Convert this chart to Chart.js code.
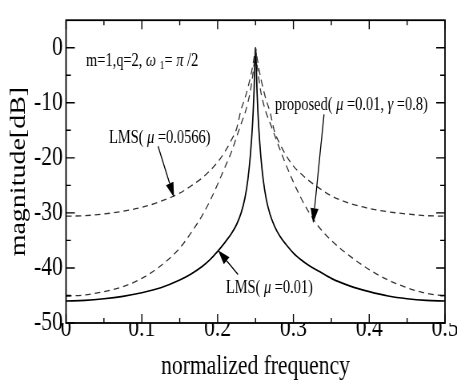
<!DOCTYPE html>
<html>
<head>
<meta charset="utf-8">
<script src="https://cdn.jsdelivr.net/npm/chart.js@4.4.1/dist/chart.umd.min.js"></script>
<style>
  html, body { margin: 0; padding: 0; background: #fff; }
  canvas { display: block; }
</style>
</head>
<body>
<!-- drawn 571 wide and shown 457 wide: the reference figure is squeezed sideways -->
<canvas id="chart" width="571" height="380" style="width:457px;height:380px"></canvas>
<script>
// normalized frequency sample points (denser near the peak at 0.25)
const freq = [0, 0.025, 0.05, 0.075, 0.1, 0.125, 0.15, 0.165, 0.18, 0.19, 0.2, 0.21, 0.218, 0.225, 0.231, 0.236,
              0.24, 0.243, 0.246, 0.248, 0.25,
              0.252, 0.254, 0.257, 0.26, 0.264, 0.269, 0.275, 0.282, 0.29, 0.3, 0.31, 0.32, 0.335, 0.35, 0.375,
              0.4, 0.425, 0.45, 0.475, 0.5];

// magnitude [dB]
const lmsSmall = [-46, -45.9, -45.6, -45.15, -44.5, -43.6, -42.2, -41.1, -39.7, -38.5, -37, -35.3, -33.8, -32.1, -30, -27.3,
                  -23.8, -19.8, -14, -8, 0,
                  -8, -14, -19.8, -23.8, -27.4, -30.2, -32.4, -34.2, -35.7, -37.3, -38.5, -39.5, -40.7, -41.9, -43.3,
                  -44.3, -45.1, -45.6, -45.9, -46];
const lmsLarge = [-30.6, -30.5, -30.2, -29.7, -29, -27.9, -26.4, -25.1, -23.6, -22.3, -20.8, -18.8, -16.8, -14.7, -11.2, -9.2,
                  -7.2, -5.5, -3.5, -1.8, 0,
                  -1.8, -3.5, -5.6, -7.4, -9.5, -11.6, -15.2, -17.4, -19.5, -21.5, -22.9, -24.1, -25.6, -26.9, -28.3,
                  -29.2, -29.8, -30.2, -30.5, -30.6];
const proposed = [-45.1, -44.9, -44.3, -43.4, -41.9, -39.6, -36.4, -33.6, -30.4, -27.8, -24.8, -21.6, -19, -16.2, -13.8, -11.9,
                  -9.9, -8, -5.3, -3, 0,
                  -3, -5.3, -8, -9.9, -11.8, -13.6, -15.8, -18.4, -21.2, -24.4, -27.3, -29.8, -32.8, -35, -37.9,
                  -40.3, -42.2, -43.6, -44.6, -45.1];

const xMajor = [0, 0.1, 0.2, 0.3, 0.4, 0.5];
const xMinor = [0.05, 0.15, 0.25, 0.35, 0.45];
const yMajor = [-50, -40, -30, -20, -10, 0];
const yMinor = [-45, -35, -25, -15, -5];

const serif = "'Liberation Serif', 'Times New Roman', serif";

// text notes and arrows, placed in data units
const notes = [
  { x: 0.0264, y: -2.5, parts: [['m=1,q=2, '], ['ω', 'i'], [' '], ['1', 's'], ['= '], ['π', 'i'], [' /2']] },
  { x: 0.0567, y: -16.5, parts: [['LMS( '], ['μ', 'i'], [' =0.0566)']] },
  { x: 0.2757, y: -10.4, parts: [['proposed( '], ['μ', 'i'], [' =0.01, '], ['γ', 'i'], [' =0.8)']] },
  { x: 0.211, y: -43.7, parts: [['LMS( '], ['μ', 'i'], [' =0.01)']] }
];
const arrows = [
  { from: [0.1214, -17.9], to: [0.1425, -27.2] },
  { from: [0.3404, -12.1], to: [0.3259, -31.9] },
  { from: [0.2269, -41.2], to: [0.2005, -36.8] }
];

const toPoints = ys => freq.map((f, i) => ({ x: f, y: ys[i] }));

const framePlugin = {
  id: 'frame',
  afterDatasetsDraw(chart) {
    const { ctx, chartArea: a, scales: { x, y } } = chart;
    ctx.save();
    ctx.strokeStyle = '#000';
    ctx.fillStyle = '#000';

    // inward tick marks on all four sides
    ctx.lineWidth = 1.4;
    ctx.beginPath();
    const xTick = (v, len) => {
      const px = x.getPixelForValue(v);
      ctx.moveTo(px, a.bottom); ctx.lineTo(px, a.bottom - len);
      ctx.moveTo(px, a.top); ctx.lineTo(px, a.top + len);
    };
    const yTick = (v, len) => {
      const py = y.getPixelForValue(v);
      ctx.moveTo(a.left, py); ctx.lineTo(a.left + len, py);
      ctx.moveTo(a.right, py); ctx.lineTo(a.right - len, py);
    };
    xMajor.forEach(v => xTick(v, 9));
    xMinor.forEach(v => xTick(v, 5));
    yMajor.forEach(v => yTick(v, 11));
    yMinor.forEach(v => yTick(v, 6));
    ctx.stroke();

    ctx.lineWidth = 1.8;
    ctx.strokeRect(a.left, a.top, a.right - a.left, a.bottom - a.top);

    // notes
    ctx.textBaseline = 'middle';
    notes.forEach(n => {
      let px = x.getPixelForValue(n.x);
      const py = y.getPixelForValue(n.y);
      n.parts.forEach(([txt, st]) => {
        if (st === 's') {
          ctx.font = `12px ${serif}`;
          ctx.fillText(txt, px, py + 4);
        } else {
          ctx.font = `${st === 'i' ? 'italic ' : ''}18px ${serif}`;
          ctx.fillText(txt, px, py);
        }
        px += ctx.measureText(txt).width;
      });
    });

    // arrows with filled heads
    ctx.lineWidth = 1.3;
    arrows.forEach(ar => {
      const x0 = x.getPixelForValue(ar.from[0]), y0 = y.getPixelForValue(ar.from[1]);
      const x1 = x.getPixelForValue(ar.to[0]), y1 = y.getPixelForValue(ar.to[1]);
      const ang = Math.atan2(y1 - y0, x1 - x0);
      const len = 15, half = 5;
      const bx = x1 - len * Math.cos(ang), by = y1 - len * Math.sin(ang);
      ctx.beginPath();
      ctx.moveTo(x0, y0); ctx.lineTo(bx, by);
      ctx.stroke();
      ctx.beginPath();
      ctx.moveTo(x1, y1);
      ctx.lineTo(bx + half * Math.sin(ang), by - half * Math.cos(ang));
      ctx.lineTo(bx - half * Math.sin(ang), by + half * Math.cos(ang));
      ctx.closePath();
      ctx.fill();
    });
    ctx.restore();
  }
};

new Chart(document.getElementById('chart'), {
  type: 'line',
  data: {
    datasets: [
      { label: 'LMS(μ=0.0566)', data: toPoints(lmsLarge), borderColor: '#333', borderWidth: 1.3, borderDash: [7, 5] },
      { label: 'proposed(μ=0.01, γ=0.8)', data: toPoints(proposed), borderColor: '#333', borderWidth: 1.3, borderDash: [7, 5] },
      { label: 'LMS(μ=0.01)', data: toPoints(lmsSmall), borderColor: '#000', borderWidth: 1.7 }
    ]
  },
  options: {
    responsive: false,
    devicePixelRatio: 1,
    animation: false,
    layout: { padding: { top: 9, right: 15, left: 0, bottom: 0 } },
    elements: {
      point: { radius: 0 },
      line: { cubicInterpolationMode: 'monotone', fill: false }
    },
    plugins: { legend: { display: false }, tooltip: { enabled: false } },
    scales: {
      x: {
        type: 'linear', min: 0, max: 0.5,
        grid: { display: false, drawTicks: false },
        border: { display: false },
        afterBuildTicks: s => { s.ticks = xMajor.map(v => ({ value: v })); },
        afterFit: s => { s.height = 57; },
        ticks: {
          padding: -10,
          color: '#000',
          font: { family: serif, size: 27 },
          callback: v => (v === 0 ? '0' : v.toFixed(1))
        },
        title: {
          display: true, text: 'normalized frequency', color: '#000',
          font: { family: serif, size: 27, lineHeight: 1 }, padding: { top: 0, bottom: 0 }
        }
      },
      y: {
        type: 'linear', min: -50, max: 5,
        grid: { display: false, drawTicks: false },
        border: { display: false },
        afterBuildTicks: s => { s.ticks = yMajor.map(v => ({ value: v })); },
        afterFit: s => { s.width = 82.5; },
        ticks: {
          padding: 4,
          color: '#000',
          font: { family: serif, size: 27 },
          callback: v => String(v)
        },
        title: {
          display: true, text: 'magnitude[dB]', color: '#000',
          font: { family: serif, size: 28 }, padding: { top: 7, bottom: 0 }
        }
      }
    }
  },
  plugins: [framePlugin]
});
</script>
</body>
</html>
